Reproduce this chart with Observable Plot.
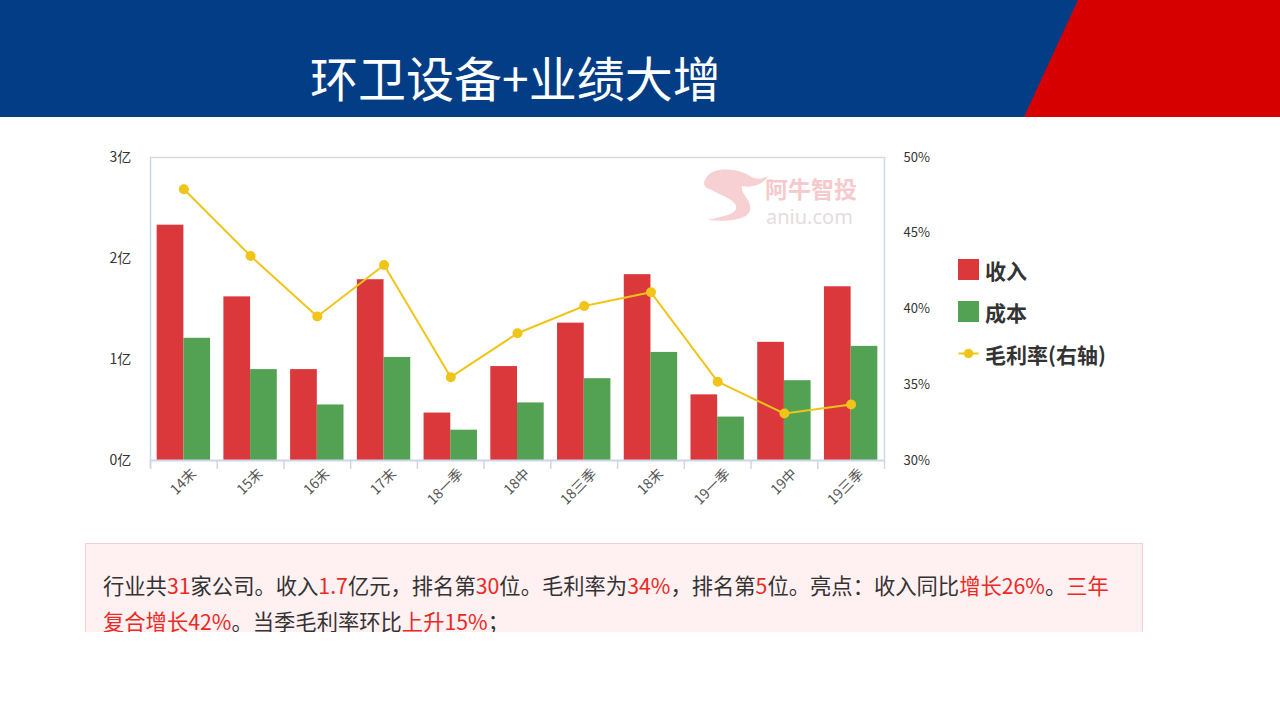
<!DOCTYPE html>
<html><head><meta charset="utf-8">
<script src="https://cdn.jsdelivr.net/npm/d3@7"></script>
<script src="https://cdn.jsdelivr.net/npm/@observablehq/plot@0.6"></script>
<style>
body{margin:0;width:1280px;height:720px;overflow:hidden;background:#fff;font-family:"Noto Sans CJK SC","Noto Sans",sans-serif;}
#wrap{position:relative;width:1280px;height:720px;}
.abs{position:absolute;}
#title{left:310px;top:47px;font-size:48px;line-height:58px;color:#fff;white-space:nowrap;letter-spacing:0px;}
.lg{position:absolute;left:958px;font-size:21px;font-weight:bold;color:#333;line-height:22px;}
.sw{display:inline-block;width:21px;height:21px;vertical-align:top;margin-right:6px;}
#note{left:85px;top:543px;width:1056px;height:88px;background:#fff0f1;border:1px solid #f6cfd2;border-bottom:none;overflow:hidden;box-sizing:content-box;}
#note p{margin:0;padding:23px 0 0 17px;font-size:21.3px;line-height:36px;color:#333;white-space:nowrap;}
#note .r{color:#ea2a25;}
</style></head><body><div id="wrap">
<svg class="abs" style="left:0;top:0" width="1280" height="117">
 <rect x="0" y="0" width="1280" height="117" fill="#023d86"/>
 <polygon points="1078,0 1280,0 1280,117 1024,117" fill="#d60000"/>
</svg>
<div id="title" class="abs">环卫设备+业绩大增</div>
<svg class="abs" style="left:0;top:0;pointer-events:none" width="1280" height="300">
 <path d="M706,178 C712,166 738,168 750,176 C756,180 762,179 768,176 C762,186 750,188 742,186 C740,194 752,200 750,210 C748,220 728,222 708,220 C724,216 738,214 736,206 C734,198 716,194 712,190 C704,188 702,184 706,178 Z" fill="#f6d0d3"/>
 <text x="765" y="198" font-size="23" font-weight="bold" fill="#f6c9cc" font-family="Noto Sans CJK SC">阿牛智投</text>
 <text x="766" y="224" font-size="20" fill="#e6dcdd" font-family="Noto Sans, sans-serif">aniu.com</text>
</svg>
<div id="chartA" class="abs" style="left:0;top:117px"></div>
<div id="chartB" class="abs" style="left:0;top:117px"></div>
<div class="lg" style="top:259px"><span class="sw" style="background:#db383b"></span>收入</div>
<div class="lg" style="top:301px"><span class="sw" style="background:#53a153"></span>成本</div>
<div class="lg" style="top:343px"><svg class="sw" width="21" height="22" viewBox="0 0 21 22"><line x1="0" y1="11" x2="21" y2="11" stroke="#f0c419" stroke-width="2"/><circle cx="10.5" cy="11" r="5" fill="#f0c419"/></svg>毛利率(右轴)</div>
<div id="note" class="abs"><p>行业共<span class="r">31</span>家公司。收入<span class="r">1.7</span>亿元，排名第<span class="r">30</span>位。毛利率为<span class="r">34%</span>，排名第<span class="r">5</span>位。亮点：收入同比<span class="r">增长26%</span>。<span class="r">三年</span><br><span class="r">复合增长42%</span>。当季毛利率环比<span class="r">上升15%</span>；</p></div>
</div>
<script>
const categories = ["14末","15末","16末","17末","18一季","18中","18三季","18末","19一季","19中","19三季"];
const seriesNames = ["收入","成本"];
const revenue = [2.33,1.62,0.90,1.79,0.47,0.93,1.36,1.84,0.65,1.17,1.72];
const cost = [1.21,0.90,0.55,1.02,0.30,0.57,0.81,1.07,0.43,0.79,1.13];
const margin = [47.9,43.5,39.5,42.9,35.5,38.4,40.2,41.1,35.2,33.1,33.7];
const leftTicks = [0,1,2,3];
const rightTicks = [30,35,40,45,50];

const W = 1280, H = 413, mL = 150, mR = 396, mT = 40, mB = 70;
const step = (W - mL - mR) / categories.length;
const font = '"Noto Sans CJK SC","Noto Sans",sans-serif';

const barData = categories.flatMap((c, i) => [
  {cat: c, s: seriesNames[0], v: revenue[i]},
  {cat: c, s: seriesNames[1], v: cost[i]}
]);
const lineData = categories.map((c, i) => ({cat: c, m: margin[i]}));

const A = Plot.plot({
  width: W, height: H, marginLeft: mL, marginRight: mR, marginTop: mT, marginBottom: mB,
  style: {background: "transparent", fontFamily: font, fontSize: "14px", color: "#333"},
  fx: {domain: categories, paddingInner: 0.2, paddingOuter: 0.1, round: false, axis: null, label: null},
  x: {domain: seriesNames, padding: 0, round: false, axis: null},
  y: {domain: [0, 3], axis: null},
  color: {domain: seriesNames, range: ["#db383b", "#53a153"]},
  marks: [
    Plot.barY(barData, {fx: "cat", x: "s", y: "v", fill: "s"}),
    Plot.axisY(leftTicks, {anchor: "left", tickSize: 0, tickPadding: 26, tickFormat: d => d + "亿", fill: "#333", fontSize: 14, label: null})
  ]
});
document.getElementById("chartA").appendChild(A);

const B = Plot.plot({
  width: W, height: H, marginLeft: mL, marginRight: mR, marginTop: mT, marginBottom: mB,
  style: {background: "transparent", fontFamily: font, fontSize: "13px", color: "#333"},
  x: {domain: categories, type: "band", paddingInner: 0.2, paddingOuter: 0.1, round: false, axis: null},
  y: {domain: [30, 50], axis: null},
  marks: [
    Plot.ruleY([50], {stroke: "#d9d9d9", strokeWidth: 1.5}),
    Plot.ruleY([30], {stroke: "#ccd6eb", strokeWidth: 2}),
    Plot.ruleX(categories, {x: d => d, y1: 30, y2: 29.4, dx: -step / 2, stroke: "#ccd6eb", strokeWidth: 1.5}),
    Plot.ruleX([categories[0]], {x: d => d, y1: 29.4, y2: 50, dx: -step / 2, stroke: "#ccd6eb", strokeWidth: 1.5}),
    Plot.ruleX([categories[categories.length - 1]], {x: d => d, y1: 29.4, y2: 50, dx: step / 2, stroke: "#d0d8e6", strokeWidth: 1.5}),
    Plot.axisX({tickRotate: -45, tickSize: 0, tickPadding: 11, dx: 10, fill: "#555", fontSize: 14, label: null}),
    Plot.axisY(rightTicks, {anchor: "right", tickSize: 0, tickPadding: 19, tickFormat: d => d + "%", fill: "#333", fontSize: 13, label: null}),
    Plot.line(lineData, {x: "cat", y: "m", stroke: "#f0c419", strokeWidth: 2}),
    Plot.dot(lineData, {x: "cat", y: "m", r: 5, fill: "#f0c419"})
  ]
});
document.getElementById("chartB").appendChild(B);
</script>
</body></html>
